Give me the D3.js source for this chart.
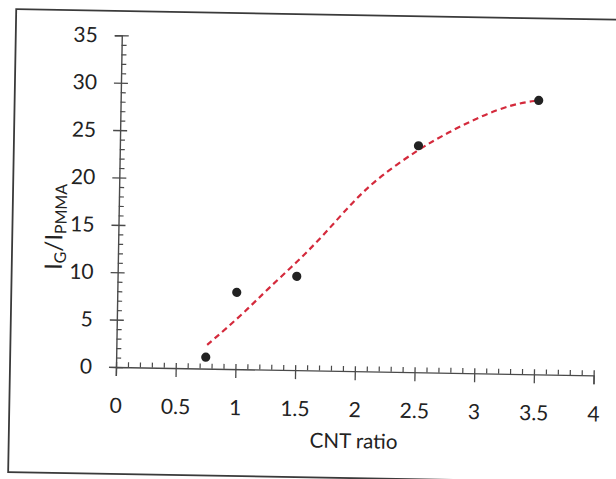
<!DOCTYPE html>
<html>
<head>
<meta charset="utf-8">
<script src="https://cdn.jsdelivr.net/npm/d3@7"></script>
<style>
  html, body { margin: 0; padding: 0; background: #fff; }
  svg { display: block; }
  text { font-family: Lato, "Open Sans", sans-serif; fill: #222; }
</style>
</head>
<body>
<div id="chart"></div>
<script>
// ---- data ----
const cntRatio = [0.75, 1.0, 1.5, 2.5, 3.5];
const intensityRatio = [1.2, 8.1, 9.9, 23.9, 28.9];

// dashed trend line
const trendX = [0.76, 0.92, 1.09, 1.25, 1.5, 1.72, 1.96, 2.18, 2.51, 2.74, 3.01, 3.29, 3.5];
const trendY = [2.5, 4.3, 6.3, 8.4, 11.4, 14.3, 17.9, 20.6, 23.6, 25.3, 27.1, 28.5, 28.9];

const xTickValues = [0, 0.5, 1, 1.5, 2, 2.5, 3, 3.5, 4];
const xTickLabels = ["0", "0.5", "1", "1.5", "2", "2.5", "3", "3.5", "4"];
const yTickValues = [0, 5, 10, 15, 20, 25, 30, 35];
const yTickLabels = ["0", "5", "10", "15", "20", "25", "30", "35"];

const xTitle = "CNT ratio";

// ---- layout ----
const W = 616, H = 479;
const svg = d3.select("#chart").append("svg").attr("width", W).attr("height", H);
const root = svg.append("g").attr("transform", "rotate(1 116 367)");

const x = d3.scaleLinear().domain([0, 4]).range([116, 593.7]);
const y = d3.scaleLinear().domain([0, 35]).range([367, 35.3]);

// frame
root.append("rect")
  .attr("x", 10).attr("y", 11).attr("width", 660).attr("height", 463)
  .attr("fill", "none").attr("stroke", "#3a3a3a").attr("stroke-width", 1.8);

const axisColor = "#4a4a4a";
const tickFont = 21;

// minor ticks x
const xMinor = d3.range(1, 40).map(d => d / 10).filter(v => Math.abs(v * 2 - Math.round(v * 2)) > 1e-6);
const gxMinor = root.append("g").attr("transform", `translate(0,${y(0)})`)
  .call(d3.axisBottom(x).tickValues(xMinor).tickSize(-5).tickFormat(""));
gxMinor.select(".domain").remove();
gxMinor.selectAll("line").attr("stroke", axisColor).attr("stroke-width", 1.2);

// major x
const gx = root.append("g").attr("transform", `translate(0,${y(0)})`)
  .call(d3.axisBottom(x).tickValues(xTickValues).tickSize(9).tickPadding(22)
    .tickFormat((d, i) => xTickLabels[i]));
gx.select(".domain").attr("stroke", axisColor).attr("stroke-width", 1.4);
gx.selectAll(".tick line").attr("y1", -5).attr("stroke", axisColor).attr("stroke-width", 1.3);
gx.selectAll(".tick text").attr("font-size", tickFont).attr("fill", "#222")
  .attr("font-family", "Lato, 'Open Sans', sans-serif");

// minor ticks y
const yMinor = d3.range(1, 35).filter(v => v % 5 !== 0);
const gyMinor = root.append("g").attr("transform", `translate(${x(0)},0)`)
  .call(d3.axisLeft(y).tickValues(yMinor).tickSize(-5).tickFormat(""));
gyMinor.select(".domain").remove();
gyMinor.selectAll("line").attr("stroke", axisColor).attr("stroke-width", 1.2);

// major y
const gy = root.append("g").attr("transform", `translate(${x(0)},0)`)
  .call(d3.axisLeft(y).tickValues(yTickValues).tickSize(7).tickPadding(17)
    .tickFormat((d, i) => yTickLabels[i]));
gy.select(".domain").attr("stroke", axisColor).attr("stroke-width", 1.4);
gy.selectAll(".tick line").attr("x1", 7).attr("stroke", axisColor).attr("stroke-width", 1.3);
gy.selectAll(".tick text").attr("font-size", tickFont).attr("fill", "#222")
  .attr("font-family", "Lato, 'Open Sans', sans-serif");

// axis titles
root.append("text")
  .attr("x", (x(0) + x(4)) / 2).attr("y", 444)
  .attr("text-anchor", "middle").attr("font-size", 20.5)
  .text(xTitle);

const yt = root.append("text")
  .attr("transform", "translate(60,228) rotate(-90)")
  .attr("text-anchor", "middle").attr("font-size", 24);
yt.append("tspan").text("I");
yt.append("tspan").attr("font-size", 16).attr("baseline-shift", "-25%").text("G");
yt.append("tspan").text("/I");
yt.append("tspan").attr("font-size", 16).attr("baseline-shift", "-25%").text("PMMA");

// trend line
const trend = trendX.map((v, i) => [v, trendY[i]]);
root.append("path")
  .datum(trend)
  .attr("fill", "none")
  .attr("stroke", "#d42a3c")
  .attr("stroke-width", 2.2)
  .attr("stroke-dasharray", "6,4")
  .attr("d", d3.line().x(d => x(d[0])).y(d => y(d[1])).curve(d3.curveBasis));

// data points
root.append("g").selectAll("circle")
  .data(cntRatio.map((v, i) => [v, intensityRatio[i]]))
  .join("circle")
  .attr("cx", d => x(d[0])).attr("cy", d => y(d[1]))
  .attr("r", 4.6).attr("fill", "#222");
</script>
</body>
</html>
